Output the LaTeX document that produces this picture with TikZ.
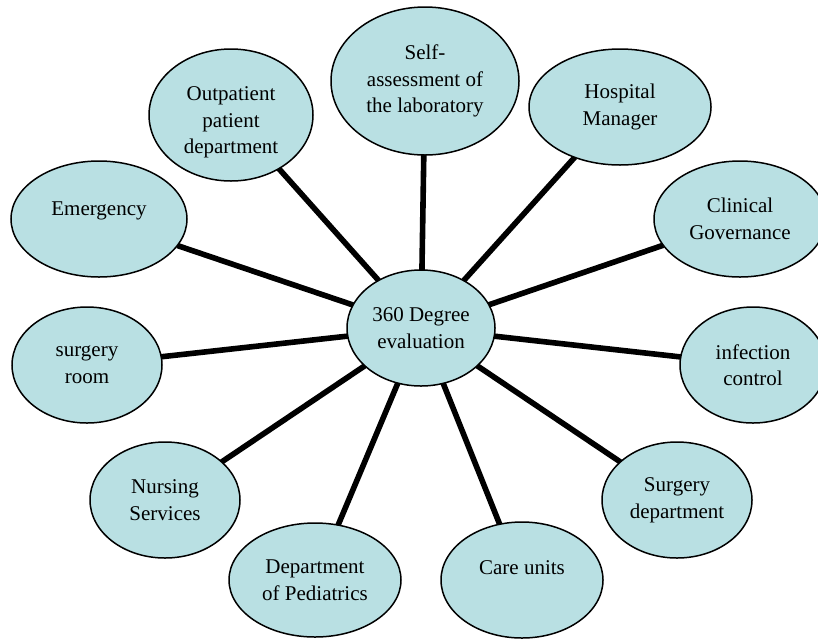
\documentclass[tikz,border=0pt]{standalone}
\usepackage{fontspec}
\setmainfont{Liberation Serif}
\usetikzlibrary{shapes.geometric,backgrounds}
\definecolor{bubblefill}{RGB}{185,224,227}
\tikzset{
bubble/.style={
  ellipse,
  draw=black,
  line width=0.75pt,
  fill=bubblefill,
  align=center,
  inner sep=0pt,
  outer sep=0pt,
  font=\fontsize{10.5}{13.3}\selectfont
  },
spoke/.style={
  line width=2.8pt
  }
}
\begin{document}
\begin{tikzpicture}[x=0.5pt,y=-0.5pt]
\useasboundingbox (0,0) rectangle (818,638);

\node[bubble,minimum width=74pt,minimum height=58pt] (hub)
  at (421,328) {360 Degree\\evaluation};

\node[bubble,minimum width=94pt,minimum height=74pt] (selfassess)
  at (425,81) {Self-\\assessment of\\the laboratory};
\node[bubble,minimum width=82pt,minimum height=66pt,text height=41pt] (outpatient)
  at (231,115) {Outpatient\\patient\\department};
\node[bubble,minimum width=91pt,minimum height=58pt] (manager)
  at (620,107) {Hospital\\Manager};
\node[bubble,minimum width=88pt,minimum height=58pt,text depth=10pt] (emergency)
  at (99,219) {Emergency};
\node[bubble,minimum width=86pt,minimum height=58pt] (governance)
  at (740,219) {Clinical\\Governance};
\node[bubble,minimum width=75pt,minimum height=58pt] (surgroom)
  at (87,365) {surgery\\room};
\node[bubble,minimum width=73pt,minimum height=58pt] (infection)
  at (753,365) {infection\\control};
\node[bubble,minimum width=75pt,minimum height=58pt] (nursing)
  at (165,500) {Nursing\\Services};
\node[bubble,minimum width=75pt,minimum height=58pt] (surgdept)
  at (677,500) {Surgery\\department};
\node[bubble,minimum width=86pt,minimum height=57pt] (pediatrics)
  at (315,580) {Department\\of Pediatrics};
\node[bubble,minimum width=81pt,minimum height=58pt,text depth=12pt] (careunits)
  at (522,580) {Care units};

\begin{scope}[on background layer]
\draw[spoke] (hub) -- (selfassess);
\draw[spoke] (hub) -- (outpatient);
\draw[spoke] (hub) -- (manager);
\draw[spoke] (hub) -- (emergency);
\draw[spoke] (hub) -- (governance);
\draw[spoke] (hub) -- (surgroom);
\draw[spoke] (hub) -- (infection);
\draw[spoke] (hub) -- (nursing);
\draw[spoke] (hub) -- (surgdept);
\draw[spoke] (hub) -- (pediatrics);
\draw[spoke] (hub) -- (careunits);
\end{scope}

\end{tikzpicture}
\end{document}
